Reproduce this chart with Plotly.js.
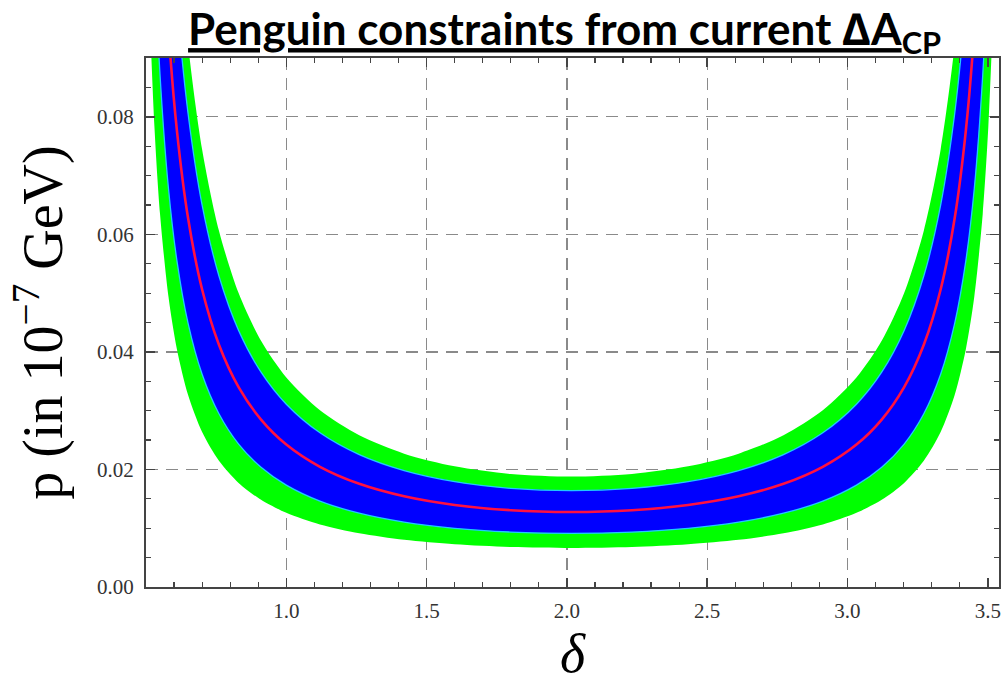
<!DOCTYPE html>
<html>
<head>
<meta charset="utf-8">
<script src="https://cdn.plot.ly/plotly-3.0.1.min.js"></script>
<style>html,body{margin:0;padding:0;background:#fff;}#chart{width:1001px;height:691px;}</style>
</head>
<body>
<div id="chart"></div>
<script>
// delta values (x)
const delta = [0.49, 0.51, 0.53, 0.55, 0.58, 0.61, 0.65, 0.70, 0.76, 0.83, 0.91, 1.00, 1.12, 1.26, 1.42, 1.60, 1.80, 2.016,
               2.232, 2.432, 2.612, 2.772, 2.912, 3.032, 3.122, 3.202, 3.272, 3.332, 3.382, 3.422, 3.452, 3.482, 3.502, 3.522, 3.542];

// outer (green) band, lower edge
const greenLow = [0.1478, 0.1024, 0.07834, 0.06345, 0.04941, 0.04049, 0.03266, 0.02636, 0.02147, 0.01771, 0.01483, 0.01262, 0.01064, 0.00914, 0.00803, 0.00727, 0.00681, 0.00665,
                  0.00681, 0.00727, 0.00803, 0.00914, 0.01064, 0.01262, 0.01483, 0.01771, 0.02147, 0.02636, 0.03266, 0.04049, 0.04941, 0.06345, 0.07834, 0.1024, 0.1478];
// inner (blue) band, lower edge
const blueLow = [0.2030, 0.1406, 0.1076, 0.08711, 0.06784, 0.05558, 0.04485, 0.03619, 0.02947, 0.02431, 0.02036, 0.01733, 0.01461, 0.01255, 0.01103, 0.00998, 0.00935, 0.00913,
                 0.00935, 0.00998, 0.01103, 0.01255, 0.01461, 0.01733, 0.02036, 0.02431, 0.02947, 0.03619, 0.04485, 0.05558, 0.06784, 0.08711, 0.1076, 0.1406, 0.2030];
// central value (red)
const central = [0.2839, 0.1967, 0.1504, 0.1218, 0.09488, 0.07774, 0.06273, 0.05062, 0.04122, 0.03401, 0.02848, 0.02423, 0.02044, 0.01755, 0.01543, 0.01396, 0.01307, 0.01277,
                 0.01307, 0.01396, 0.01543, 0.01755, 0.02044, 0.02423, 0.02848, 0.03401, 0.04122, 0.05062, 0.06273, 0.07774, 0.09488, 0.1218, 0.1504, 0.1967, 0.2839];
// inner (blue) band, upper edge
const blueHigh = [0.3644, 0.2524, 0.1931, 0.1564, 0.1218, 0.09978, 0.08051, 0.06497, 0.05291, 0.04365, 0.03655, 0.03110, 0.02623, 0.02252, 0.01980, 0.01792, 0.01678, 0.01639,
                  0.01678, 0.01792, 0.01980, 0.02252, 0.02623, 0.03110, 0.03655, 0.04365, 0.05291, 0.06497, 0.08051, 0.09978, 0.1218, 0.1564, 0.1931, 0.2524, 0.3644];
// outer (green) band, upper edge
const greenHigh = [0.4175, 0.2892, 0.2212, 0.1792, 0.1395, 0.1143, 0.09225, 0.07444, 0.06062, 0.05001, 0.04188, 0.03564, 0.03005, 0.02581, 0.02269, 0.02053, 0.01923, 0.01878,
                   0.01923, 0.02053, 0.02269, 0.02581, 0.03005, 0.03564, 0.04188, 0.05001, 0.06062, 0.07444, 0.09225, 0.1143, 0.1395, 0.1792, 0.2212, 0.2892, 0.4175];

const xTickVals = [1.0, 1.5, 2.0, 2.5, 3.0, 3.5];
const xGridVals = [1.0, 1.5, 2.0, 2.5, 3.0];
const yTickVals = [0.00, 0.02, 0.04, 0.06, 0.08];

const GREEN = '#00ff00', BLUE = '#0000ff', CYAN = '#20c8ff', RED = '#ff1040';
const sp = {shape: 'spline', smoothing: 0.8};

const traces = [
  {x: delta, y: greenLow, mode: 'lines', line: Object.assign({width: 0, color: GREEN}, sp), showlegend: false, hoverinfo: 'skip'},
  {x: delta, y: greenHigh, mode: 'lines', fill: 'tonexty', fillcolor: GREEN, line: Object.assign({width: 0, color: GREEN}, sp), showlegend: false, hoverinfo: 'skip'},
  {x: delta, y: blueLow, mode: 'lines', line: Object.assign({width: 1.3, color: CYAN}, sp), showlegend: false, hoverinfo: 'skip'},
  {x: delta, y: blueHigh, mode: 'lines', fill: 'tonexty', fillcolor: BLUE, line: Object.assign({width: 1.3, color: CYAN}, sp), showlegend: false, hoverinfo: 'skip'},
  {x: delta, y: central, mode: 'lines', line: Object.assign({width: 2.6, color: RED}, sp), showlegend: false, hoverinfo: 'skip'},
  {x: [null], y: [null], xaxis: 'x2', mode: 'lines', showlegend: false, hoverinfo: 'skip'}
];

const tickFont = {family: '"Liberation Serif", "Times New Roman", serif', size: 21, color: '#333'};
const AXC = '#444';

const layout = {
  width: 1001, height: 691,
  margin: {l: 146, r: 2, t: 58, b: 104, pad: 0},
  paper_bgcolor: '#ffffff', plot_bgcolor: '#ffffff',
  title: {
    text: '<b><u>Penguin constraints from current ∆A</u><sub>CP</sub></b>',
    font: {family: 'Lato, "Open Sans", sans-serif', size: 44, color: '#000'},
    x: 0.564, xanchor: 'center', xref: 'container',
    y: 0.957, yanchor: 'middle', yref: 'container'
  },
  xaxis: {
    range: [0.5, 3.54], tickvals: xTickVals, tickformat: '.1f',
    showgrid: false, zeroline: false,
    showline: true, linecolor: AXC, linewidth: 2, mirror: 'ticks',
    ticks: 'inside', ticklen: 9, tickwidth: 1.5, tickcolor: AXC,
    minor: {dtick: 0.1, tick0: 0, ticks: 'inside', ticklen: 5, tickwidth: 1.2, tickcolor: AXC, showgrid: false},
    tickfont: tickFont, ticklabelstandoff: 4,
    title: {text: '<i>δ</i>', font: {family: '"Liberation Serif", "Times New Roman", serif', size: 54, color: '#000'}, standoff: 12}
  },
  xaxis2: {
    range: [0.5, 3.54], overlaying: 'x', anchor: 'y', side: 'bottom',
    tickvals: xGridVals, showticklabels: false, ticks: '', showline: false, zeroline: false,
    showgrid: true, gridcolor: '#8a8a8a', gridwidth: 1.3, griddash: '12px,8px'
  },
  yaxis: {
    range: [0, 0.09], tickvals: yTickVals, tickformat: '.2f',
    showgrid: true, gridcolor: '#8a8a8a', gridwidth: 1.3, griddash: '12px,8px', zeroline: false,
    showline: true, linecolor: AXC, linewidth: 2, mirror: 'ticks',
    ticks: 'inside', ticklen: 9, tickwidth: 1.5, tickcolor: AXC,
    minor: {dtick: 0.005, tick0: 0, ticks: 'inside', ticklen: 5, tickwidth: 1.2, tickcolor: AXC, showgrid: false},
    tickfont: tickFont, ticklabelstandoff: 6,
    title: {text: 'p (in 10<sup>−7</sup> GeV)', font: {family: '"Liberation Serif", "Times New Roman", serif', size: 56, color: '#000'}, standoff: 16}
  }
};

Plotly.newPlot('chart', traces, layout, {displayModeBar: false, staticPlot: true});
</script>
</body>
</html>
